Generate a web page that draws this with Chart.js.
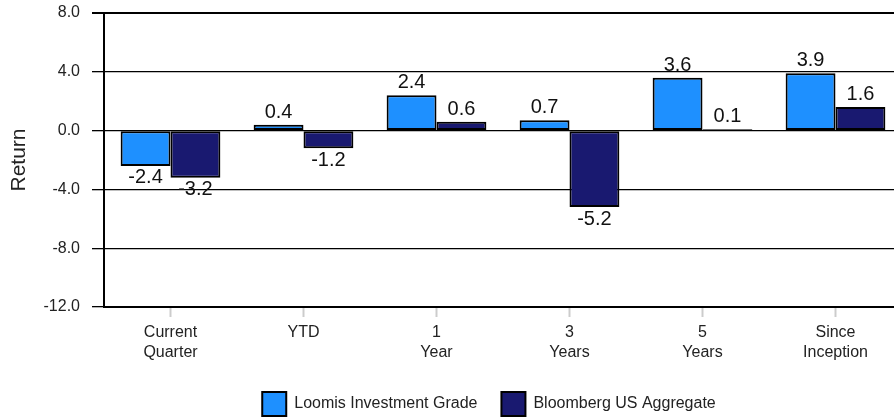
<!DOCTYPE html>
<html>
<head>
<meta charset="utf-8">
<script src="https://cdn.jsdelivr.net/npm/chart.js@4"></script>
<style>
  html, body { margin: 0; padding: 0; background: #fff; }
  #wrap { width: 894px; height: 417px; overflow: hidden; position: relative; }
</style>
</head>
<body>
<div id="wrap"><canvas id="chart" width="902" height="426"></canvas></div>
<script>
const categories = [["Current", "Quarter"], ["YTD"], ["1", "Year"], ["3", "Years"], ["5", "Years"], ["Since", "Inception"]];
const loomis = [-2.4, 0.4, 2.4, 0.7, 3.6, 3.9];
const bloomberg = [-3.2, -1.2, 0.6, -5.2, 0.1, 1.6];
const seriesNames = ["Loomis Investment Grade", "Bloomberg US Aggregate"];

const FONT = "'Liberation Sans', Arial, sans-serif";

// value labels above / below each bar
const barLabels = {
  id: "barLabels",
  afterDatasetsDraw(chart) {
    const ctx = chart.ctx;
    ctx.save();
    ctx.font = "20px " + FONT;
    ctx.fillStyle = "#111";
    ctx.textAlign = "center";
    chart.data.datasets.forEach((ds, i) => {
      chart.getDatasetMeta(i).data.forEach((bar, j) => {
        const v = ds.data[j];
        if (v >= 0) {
          ctx.textBaseline = "alphabetic";
          ctx.fillText(v.toFixed(1), bar.x, bar.y - 7);
        } else {
          ctx.textBaseline = "top";
          ctx.fillText(v.toFixed(1), bar.x, bar.y + 2);
        }
      });
    });
    ctx.restore();
  }
};

// the legend sits a bit right of the canvas centre in the original
const shiftLegend = {
  id: "shiftLegend",
  afterLayout(chart) {
    chart.legend.left += 38;
    chart.legend.right += 38;
  }
};

new Chart(document.getElementById("chart"), {
  type: "bar",
  data: {
    labels: categories,
    datasets: [
      {
        label: seriesNames[0],
        data: loomis,
        backgroundColor: "#1E90FF",
        borderColor: "#000",
        borderWidth: 2,
        borderSkipped: false,
        barPercentage: 1.0,
        categoryPercentage: 0.75
      },
      {
        label: seriesNames[1],
        data: bloomberg,
        backgroundColor: "#191970",
        borderColor: "#000",
        borderWidth: 2,
        borderSkipped: false,
        barPercentage: 1.0,
        categoryPercentage: 0.75
      }
    ]
  },
  options: {
    responsive: false,
    animation: false,
    layout: { padding: { top: 13, left: 0, right: 0, bottom: 0 } },
    plugins: {
      tooltip: { enabled: false },
      legend: {
        position: "bottom",
        labels: {
          boxWidth: 24,
          boxHeight: 24,
          padding: 24,
          color: "#222",
          font: { family: FONT, size: 16 }
        }
      }
    },
    scales: {
      x: {
        grid: {
          offset: false,
          drawOnChartArea: false,
          drawTicks: true,
          tickLength: 10,
          tickWidth: 2,
          tickColor: "#ccc"
        },
        border: { color: "#000", width: 2 },
        ticks: {
          color: "#222",
          padding: 6,
          maxRotation: 0,
          font: { family: FONT, size: 16, lineHeight: 1.25 }
        },
        afterFit(scale) { scale.height = 61; }
      },
      y: {
        min: -12,
        max: 8,
        ticks: {
          stepSize: 4,
          color: "#222",
          padding: 12,
          font: { family: FONT, size: 16 },
          callback: v => v.toFixed(1)
        },
        grid: {
          color: "#000",
          lineWidth: c => (c.tick && c.tick.value === 8 ? 2 : 1.3),
          tickColor: "#000",
          tickLength: 12
        },
        border: { color: "#000", width: 2 },
        title: {
          display: true,
          text: "Return",
          color: "#222",
          font: { family: FONT, size: 21 },
          padding: { top: 7, bottom: 0 }
        },
        afterFit(scale) {
          scale.width = 104;
          scale.paddingTop = 0;
          scale.paddingBottom = 0;
        }
      }
    }
  },
  plugins: [barLabels, shiftLegend]
});
</script>
</body>
</html>
